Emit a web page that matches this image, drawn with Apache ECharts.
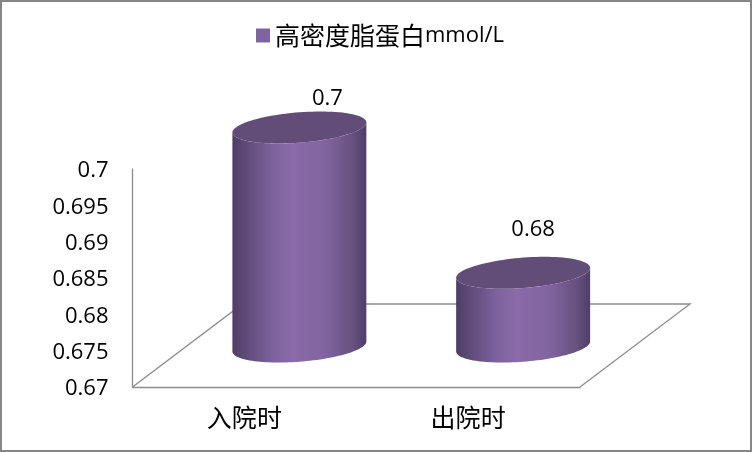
<!DOCTYPE html>
<html><head><meta charset="utf-8">
<style>html,body{margin:0;padding:0;background:#fff}#c{width:752px;height:452px}</style>
<script src="https://cdn.jsdelivr.net/npm/echarts@6/dist/echarts.min.js"></script>
</head><body><div id="c"></div>
<script>
const categories = ['入院时', '出院时'];
const seriesName = '高密度脂蛋白mmol/L';
const values = [0.7, 0.68];
const axisMin = 0.67, axisMax = 0.7, axisStep = 0.005;

const LATIN = '"Open Sans"', CJK = '"Noto Sans CJK SC"';
const depth = {x: 110, y: 83};            // floor depth vector in px
const ell = {a: 63.6, bx: 21, by: 16};    // cylinder cross-section
const labelShift = [[28, -29], [10, -43]]; // data label offset from cylinder top centre

function ring(cx, cy, from, to, n) {
  const pts = [];
  for (let i = 0; i <= n; i++) {
    const t = from + (to - from) * i / n;
    pts.push([cx + ell.a * Math.cos(t) + ell.bx * Math.sin(t), cy - ell.by * Math.sin(t)]);
  }
  return pts;
}
const bodyFill = new echarts.graphic.LinearGradient(0, 0, 1, 0, [
  {offset: 0, color: '#4E3D66'}, {offset: 0.1, color: '#5E4A78'},
  {offset: 0.3, color: '#7D629C'}, {offset: 0.45, color: '#8A6AA8'},
  {offset: 0.7, color: '#8064A0'}, {offset: 0.9, color: '#67517F'},
  {offset: 1, color: '#4E3E68'}
]);

function renderCylinder(params, api) {
  const i = params.dataIndex;
  const top = api.coord([api.value(0), api.value(1)]);
  const base = api.coord([api.value(0), axisMin]);
  const cx = top[0] + depth.x / 2, ty = top[1] - depth.y / 2, by = base[1] - depth.y / 2;
  const t0 = Math.atan2(ell.bx, ell.a);
  const lower = ring(cx, by + 1, t0, t0 - Math.PI, 60);
  const upper = ring(cx, ty, t0 - Math.PI, t0, 60);
  const body = lower.concat(upper);
  const lid = ring(cx, ty, 0, Math.PI * 2, 100);
  const s = labelShift[i];
  return {type: 'group', children: [
    {type: 'polygon', shape: {points: body}, style: {fill: bodyFill}},
    {type: 'polygon', shape: {points: lid}, style: {fill: '#624D79'}},
    {type: 'text', style: {text: String(api.value(1)), x: cx + s[0], y: ty + s[1],
      fill: '#000', font: '22px ' + LATIN, textAlign: 'center', textVerticalAlign: 'middle'}}
  ]};
}
function renderFloor(params, api) {
  const c = params.coordSys;
  const bx = c.x, by = c.y + c.height, rx = c.x + c.width;
  return {type: 'polyline', shape: {points: [
    [bx, by], [bx + depth.x, by - depth.y], [rx + depth.x, by - depth.y], [rx, by]
  ]}, style: {stroke: '#8C8C8C', lineWidth: 1.3, fill: null}};
}

const chart = echarts.init(document.getElementById('c'), null, {renderer: 'canvas'});
chart.setOption({
  animation: false,
  backgroundColor: '#fff',
  grid: {left: 132.5, top: 169, width: 447.5, height: 218},
  legend: {
    data: [{name: seriesName, icon: 'rect', itemStyle: {color: '#8064A2'}}],
    left: 251, top: 18, itemWidth: 14, itemHeight: 14, itemGap: 7,
    formatter: () => '{c|高密度脂蛋白}{l|mmol/L}',
    textStyle: {rich: {
      c: {fontFamily: CJK, fontSize: 25, color: '#000'},
      l: {fontFamily: LATIN, fontSize: 22, color: '#000'}
    }}
  },
  xAxis: {
    type: 'category', data: categories,
    axisLine: {show: true, lineStyle: {color: '#8C8C8C', width: 1.3}},
    axisTick: {show: false},
    axisLabel: {fontFamily: CJK, fontSize: 25, color: '#000', margin: 18}
  },
  yAxis: {
    type: 'value', min: axisMin, max: axisMax, interval: axisStep,
    splitLine: {show: false},
    axisLine: {show: true, lineStyle: {color: '#8C8C8C', width: 1.3}},
    axisTick: {show: false},
    axisLabel: {color: '#000', margin: 24,
      formatter: v => '{v|' + parseFloat(v.toFixed(3)) + '}',
      rich: {v: {fontFamily: LATIN, fontSize: 22, color: '#000', padding: [4, 0, 0, 0]}}}
  },
  series: [
    {type: 'custom', name: 'floor', silent: true, z: 1, renderItem: renderFloor, data: [[0, axisMin]], encode: {x: 0, y: 1}},
    {type: 'custom', name: seriesName, z: 2, renderItem: renderCylinder,
     itemStyle: {color: '#8064A2'},
     data: values.map((v, i) => [i, v]), encode: {x: 0, y: 1}}
  ],
  graphic: [{type: 'rect', silent: true, z: 100,
    shape: {x: 1, y: 1, width: 750, height: 450},
    style: {fill: null, stroke: '#868686', lineWidth: 2}}]
});
</script></body></html>
